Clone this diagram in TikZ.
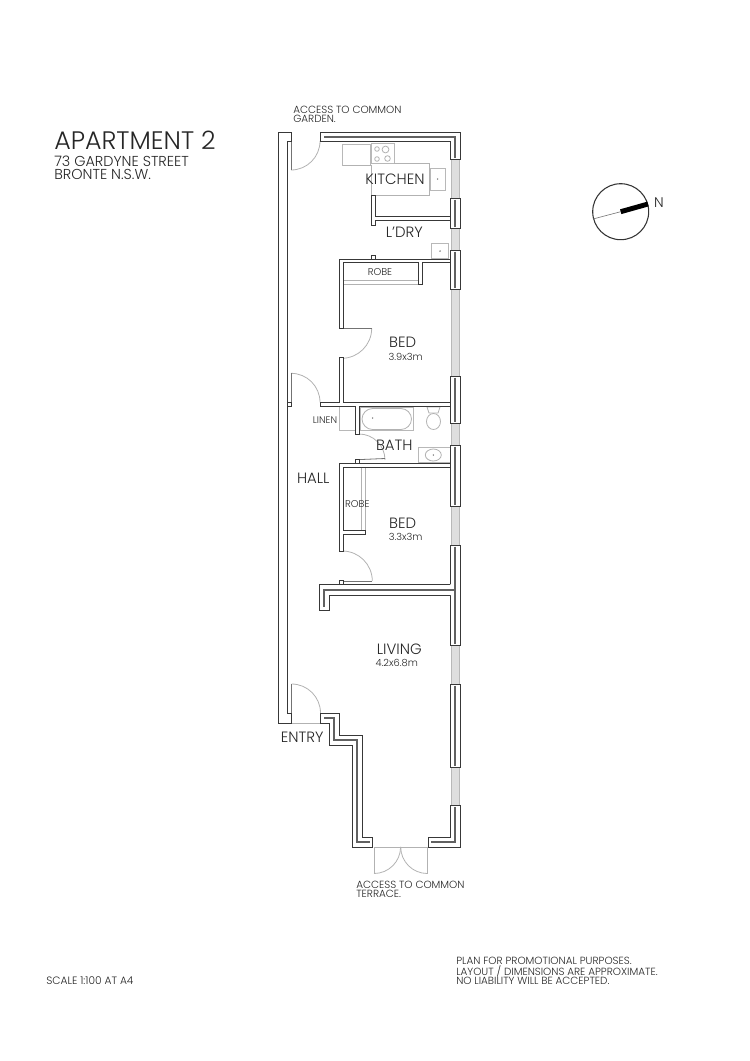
\documentclass[tikz,border=0pt]{standalone}
\usepackage{fontspec}
\setmainfont{Poppins}[UprightFont={* Light}]
\tikzset{
 wall/.style={draw=black!78,line width=0.7pt,fill=white,line join=miter},
 core/.style={draw=black!62,line width=1.7pt},
 light/.style={draw=black!30,line width=0.6pt},
 fixture/.style={draw=black!28,line width=0.6pt,fill=white},
 win/.style={draw=black!28,line width=0.5pt,fill=black!13},
 dotm/.style={fill=black!60,circle,inner sep=0.4pt},
 lbl/.style={inner sep=0,text=black!85},
 lab/.style={lbl,anchor=west,text=black!85},
 big/.style={font=\fontsize{11.2}{11}\selectfont},
 small/.style={font=\fontsize{7.4}{8}\selectfont},
 note/.style={font=\fontsize{7.8}{8}\selectfont}
}
\newcommand{\winseg}[2]{\path[win] (451,#1) rectangle (459.5,#2);}
\newcommand{\wallseg}[2]{\path[wall] (450,#1) rectangle (460,#2); \path[core] (455,#1+1.5) -- (455,#2-1.5);}
\begin{document}
\begin{tikzpicture}[x=0.75pt,y=-0.75pt]
\useasboundingbox (0,0) rectangle (750,1061);
% windows
\winseg{159}{198}\winseg{228}{250}\winseg{289}{376}\winseg{423}{445}\winseg{506}{545}\winseg{645}{684}\winseg{767}{805}
% kitchen fixtures
\path[fixture] (342.7,144) rectangle (370,165);
\path[fixture] (371.7,143.3) rectangle (394,163.3);
\draw[light] (377,149) circle (2.3) (385.5,149.5) circle (3.4) (377,159) circle (2.3) (387.5,158.5) circle (2.8);
\draw[light] (342.7,165) -- (371.7,165) (394,163.3) -- (429,163.3) -- (429,195.7) -- (371.7,195.7) -- (371.7,165);
\path[fixture] (430.7,168.3) rectangle (445.7,190);
\node[dotm] (d1) at (437.7,179) {};
\path[fixture] (431,243.3) rectangle (448.3,258.3);
\node[dotm] (d2) at (440,251) {};
% bath fixtures
\path[fixture] (339.3,406.7) rectangle (355,430.7);
\path[fixture] (360.7,407.3) rectangle (413.3,430.7);
\draw[light,rounded corners=8] (362,408.5) rectangle (411.5,429.5);
\node[dotm] (d3) at (372.7,418) {};
\draw[light] (427,407) -- (440,407) -- (438,413) -- (429,413) -- cycle;
\draw[light] (433.5,421.5) ellipse (7 and 8);
\path[fixture] (418.3,447.7) rectangle (450,462.7);
\draw[light] (433.3,455) ellipse (8 and 6);
\node[dotm] (d4) at (433.3,455) {};
% robes
\draw[light] (343,280) -- (418.3,280) (343,284) -- (418.3,284);
\draw[light] (361,467) -- (361,530) (365.7,467) -- (365.7,530);
% doors
\draw[light] (291,170) arc[start angle=90,end angle=0,radius=29];
\draw[black!55,line width=0.6pt] (291,141) -- (291,170);
\draw[light] (371.7,328.3) arc[start angle=0,end angle=90,radius=30];
\draw[black!55,line width=0.6pt] (343,328.3) -- (371.7,328.3);
\draw[light] (291,373.3) arc[start angle=-90,end angle=0,radius=29];
\draw[black!55,line width=0.6pt] (291,373.3) -- (291,402.5);
\draw[light] (385,460) arc[start angle=0,end angle=-90,radius=26];
\draw[black!55,line width=0.6pt] (359,459.6) -- (385,458.5);
\draw[light] (372.3,581) arc[start angle=0,end angle=-90,radius=30];
\draw[black!55,line width=0.6pt] (343,581) -- (372.3,581);
\draw[light] (291.5,684) arc[start angle=-90,end angle=0,radius=29];
\draw[black!55,line width=0.6pt] (291.5,684) -- (291.5,713);
\draw[light] (291.5,723) -- (320.7,723);
\draw[light] (374,847) -- (427.3,847) (374,847) -- (374,873.5) (427.3,847) -- (427.3,873.5);
\draw[light] (374,873.5) arc[start angle=90,end angle=0,radius=26.6];
\draw[light] (427.3,873.5) arc[start angle=90,end angle=180,radius=26.6];
% hall wall
\path[wall] (278.5,132) -- (291,132) -- (291,141) -- (287,141) -- (287,713) -- (291.5,713) -- (291.5,723) -- (278.5,723) -- cycle;
\path[wall] (287.3,402.3) rectangle (291,406.7);
% top wall and corner
\path[wall] (320.7,132) -- (460,132) -- (460,159) -- (450,159) -- (450,141.5) -- (320.7,141.5) -- cycle;
\path[core] (324,136.7) -- (455,136.7) -- (455,157.5);
% laundry partition
\path[wall] (371.7,195.7) -- (375.7,195.7) -- (375.7,216.7) -- (450,216.7) -- (450,220) -- (375.7,220) -- (375.7,225.5) -- (371.7,225.5) -- cycle;
% bed 1 walls
\path[wall] (371.7,259) -- (371.7,255) -- (375.7,255) -- (375.7,259) -- cycle;
\path[wall] (339.3,259) -- (450,259) -- (450,262.3) -- (422.3,262.3) -- (422.3,284) -- (418.3,284) -- (418.3,262.3) -- (343.3,262.3) -- (343.3,328.3) -- (339.3,328.3) -- cycle;
\path[wall] (339.3,357.7) -- (343.3,357.7) -- (343.3,402.3) -- (450,402.3) -- (450,406.7) -- (359.3,406.7) -- (359.3,434) -- (355.3,434) -- (355.3,406.7) -- (320,406.7) -- (320,402.3) -- (339.3,402.3) -- cycle;
% bed 2 walls
\path[wall] (355,463.3) -- (355,459.3) -- (359,459.3) -- (359,463.3) -- cycle;
\path[wall] (339.3,463.3) -- (450,463.3) -- (450,467.3) -- (343.3,467.3) -- (343.3,530) -- (365,530) -- (365,534.3) -- (343.3,534.3) -- (343.3,551) -- (339.3,551) -- cycle;
\path[wall] (339.3,580) rectangle (343.3,584.3);
% right wall segments
\wallseg{198}{228}\wallseg{250}{289}\wallseg{376}{423}\wallseg{445}{506}\wallseg{545}{645}\wallseg{684}{767}
% living wall
\path[fill=white] (319,584.3) rectangle (329,610) (329,584.3) rectangle (451,595);
\draw[black!78,line width=0.7pt,line join=miter] (450,584.3) -- (319,584.3) -- (319,610) -- (329,610) -- (329,595) -- (450,595);
\path[core] (324,606.5) -- (324,589.7) -- (455,589.7);
% entry walls
\path[wall] (320.7,713) -- (339,713) -- (339,735) -- (362,735) -- (362,837) -- (372.7,837) -- (372.7,847) -- (352.3,847) -- (352.3,745) -- (329,745) -- (329,723) -- (320.7,723) -- cycle;
\path[core] (324,718) -- (334,718) -- (334,740) -- (357,740) -- (357,842) -- (370,842);
% bottom right corner
\path[wall] (460,805) -- (460,847) -- (428,847) -- (428,837) -- (450,837) -- (450,805) -- cycle;
\path[core] (431,842) -- (455,842) -- (455,806.5);
% compass
\node[circle,draw=black!80,line width=0.8pt,minimum size=42pt,inner sep=0] (compass) at (620.7,211.7) {};
\coordinate (cc) at (620.7,211.7);
\coordinate (ne) at (648,204);
\coordinate (sw) at (593,219);
\draw[black!55,line width=0.45pt] (cc) -- (sw);
\draw[black,line width=3.7pt] (cc) -- (ne);
\node[lbl,font=\fontsize{10.5}{10}\selectfont] (north) at (659,202.7) {N};
% labels
\node[lab,font=\fontsize{19}{19}\selectfont] (title) at (54,140.5) {APARTMENT 2};
\node[lab,font=\fontsize{10.8}{11}\selectfont] (t1) at (54,161) {73 GARDYNE STREET};
\node[lab,font=\fontsize{10.8}{11}\selectfont] (t2) at (54,174) {BRONTE N.S.W.};
\node[lab,note] (ga1) at (293,110) {ACCESS TO COMMON};
\node[lab,note] (ga2) at (293,119) {GARDEN.};
\node[lbl,big] (kit) at (395,179) {KITCHEN};
\node[lbl,big] (ldry) at (404.3,232) {L'DRY};
\node[lbl,small] (rb1) at (380,272) {ROBE};
\node[lbl,big] (bed1) at (402.7,342.7) {BED};
\node[lbl,small] (dim1) at (405.7,356.7) {3.9x3m};
\node[lbl,font=\fontsize{7.2}{8}\selectfont] (lin) at (325,420) {LINEN};
\node[lbl,big] (bath) at (394.3,445.7) {BATH};
\node[lbl,big] (hall) at (313.3,478.3) {HALL};
\node[lbl,small] (rb2) at (357.3,504) {ROBE};
\node[lbl,big] (bed2) at (402.7,523) {BED};
\node[lbl,small] (dim2) at (405.7,536.7) {3.3x3m};
\node[lbl,big] (liv) at (399.3,649) {LIVING};
\node[lbl,small] (dim3) at (396.7,662.7) {4.2x6.8m};
\node[lbl,big] (entry) at (302.3,737.7) {ENTRY};
\node[lab,note] (te1) at (356,885) {ACCESS TO COMMON};
\node[lab,note] (te2) at (356,894) {TERRACE.};
\node[lab,font=\fontsize{8}{8}\selectfont] (sc) at (46,981) {SCALE 1:100 AT A4};
\node[lab,note] (n1) at (456,961) {PLAN FOR PROMOTIONAL PURPOSES.};
\node[lab,note] (n2) at (456,971) {LAYOUT / DIMENSIONS ARE APPROXIMATE.};
\node[lab,note] (n3) at (456,981) {NO LIABILITY WILL BE ACCEPTED.};
\end{tikzpicture}
\end{document}
